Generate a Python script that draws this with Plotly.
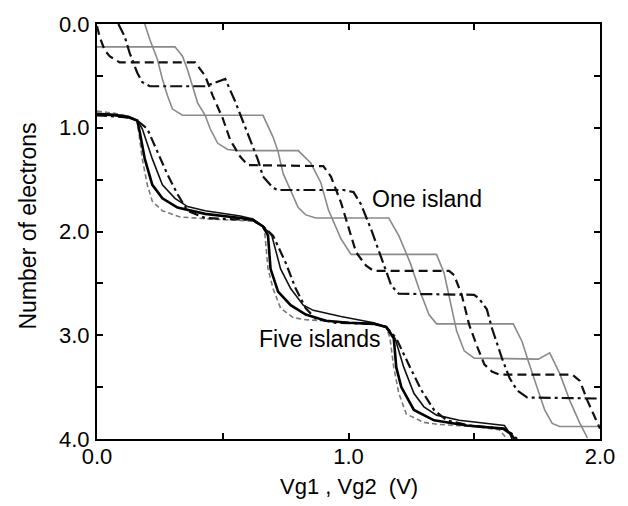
import plotly.graph_objects as go

# ---------------- One island: gray staircase 1 ----------------
g1_x = [0.0, 0.31, 0.34, 0.36, 0.38, 0.40, 0.43, 0.45, 0.48, 0.52, 0.56,
        0.80, 0.85, 0.89, 0.92, 0.97, 1.01,
        1.35, 1.38, 1.40, 1.43, 1.46, 1.50,
        1.755, 1.80, 1.84, 1.88, 1.92, 1.95]
g1_y = [0.22, 0.22, 0.31, 0.44, 0.60, 0.76, 0.88, 1.01, 1.15, 1.21, 1.22,
        1.22, 1.34, 1.53, 1.79, 2.07, 2.22,
        2.22, 2.40, 2.62, 2.96, 3.15, 3.22,
        3.23, 3.17, 3.37, 3.63, 3.85, 3.99]

# ---------------- One island: gray staircase 2 ----------------
g2_x = [0.19, 0.21, 0.24, 0.26, 0.28, 0.30, 0.34, 0.36,
        0.66, 0.70, 0.72, 0.74, 0.80, 0.83, 0.87,
        1.16, 1.20, 1.245, 1.28, 1.32, 1.35,
        1.655, 1.69, 1.715, 1.75, 1.78, 1.81, 1.84, 2.0]
g2_y = [0.0, 0.15, 0.34, 0.53, 0.69, 0.82, 0.88, 0.88,
        0.88, 1.09, 1.23, 1.44, 1.77, 1.84, 1.87,
        1.87, 2.04, 2.30, 2.55, 2.80, 2.89,
        2.89, 3.06, 3.25, 3.50, 3.72, 3.85, 3.88, 3.88]

# ---------------- One island: black dashed staircase ----------------
d1_x = [0.0, 0.01, 0.03, 0.05, 0.09, 0.39, 0.43, 0.46, 0.50, 0.53, 0.57, 0.60,
        0.90, 0.93, 0.97, 1.00, 1.03, 1.07, 1.10,
        1.40, 1.42, 1.45, 1.48, 1.51, 1.54, 1.57, 1.60,
        1.89, 1.92, 1.95, 1.99, 2.0]
d1_y = [0.02, 0.12, 0.25, 0.31, 0.37, 0.37, 0.50, 0.69, 0.91, 1.12, 1.28, 1.36,
        1.37, 1.47, 1.72, 1.95, 2.20, 2.33, 2.38,
        2.38, 2.42, 2.61, 2.90, 3.10, 3.28, 3.35, 3.38,
        3.38, 3.44, 3.63, 3.85, 3.90]

# ---------------- One island: black dash-dot staircase ----------------
d2_x = [0.085, 0.11, 0.13, 0.16, 0.18, 0.21, 0.43, 0.51,
        0.55, 0.60, 0.64, 0.66, 0.70, 0.72,
        0.98, 1.02, 1.05, 1.09, 1.13, 1.17, 1.20,
        1.50, 1.52, 1.55, 1.57, 1.61, 1.64, 1.67, 1.71, 2.0]
d2_y = [0.0, 0.12, 0.28, 0.47, 0.56, 0.60, 0.60, 0.53,
        0.75, 1.07, 1.31, 1.47, 1.58, 1.60,
        1.60, 1.62, 1.74, 1.98, 2.26, 2.52, 2.60,
        2.61, 2.65, 2.75, 2.93, 3.22, 3.41, 3.53, 3.60, 3.61]

# ---------------- Five islands ----------------
f_thick_x = [0.0, 0.07, 0.125, 0.16, 0.17, 0.19, 0.22, 0.26, 0.32, 0.43, 0.57, 0.62, 0.66,
             0.68, 0.69, 0.72, 0.77, 0.83, 0.91, 1.00, 1.10, 1.15,
             1.18, 1.19, 1.21, 1.26, 1.34, 1.47, 1.615, 1.645, 1.66]
f_thick_y = [0.87, 0.88, 0.90, 0.93, 1.04, 1.30, 1.55, 1.68, 1.77, 1.83, 1.87, 1.89, 1.95,
             2.04, 2.36, 2.58, 2.71, 2.80, 2.86, 2.88, 2.89, 2.92,
             3.03, 3.31, 3.50, 3.72, 3.82, 3.87, 3.90, 3.95, 4.0]

f_thin_x = [0.0, 0.07, 0.125, 0.16, 0.18, 0.22, 0.26, 0.31, 0.36, 0.43, 0.57, 0.62, 0.66,
            0.695, 0.73, 0.77, 0.82, 0.86, 0.97, 1.05, 1.10, 1.15,
            1.185, 1.22, 1.26, 1.30, 1.35, 1.44, 1.62, 1.64, 1.65]
f_thin_y = [0.86, 0.87, 0.89, 0.93, 1.01, 1.30, 1.55, 1.68, 1.76, 1.80, 1.85, 1.88, 1.95,
            2.04, 2.36, 2.55, 2.71, 2.76, 2.82, 2.86, 2.88, 2.92,
            3.03, 3.31, 3.56, 3.69, 3.77, 3.82, 3.87, 3.94, 4.0]

f_dashdot_x = [0.0, 0.07, 0.125, 0.16, 0.20, 0.24, 0.28, 0.32, 0.36, 0.43, 0.57, 0.62, 0.66,
               0.70, 0.75, 0.79, 0.83, 0.87, 0.95, 1.05, 1.10, 1.15,
               1.19, 1.245, 1.29, 1.34, 1.39, 1.48, 1.62, 1.65, 1.67]
f_dashdot_y = [0.88, 0.89, 0.90, 0.93, 1.01, 1.23, 1.45, 1.64, 1.80, 1.87, 1.88, 1.89, 1.95,
               2.04, 2.30, 2.55, 2.74, 2.84, 2.88, 2.89, 2.89, 2.92,
               3.03, 3.31, 3.53, 3.72, 3.82, 3.87, 3.90, 3.95, 4.0]

f_gray_x = [0.0, 0.07, 0.125, 0.16, 0.164, 0.18, 0.20, 0.22, 0.26, 0.33, 0.45, 0.57, 0.62, 0.66,
            0.668, 0.68, 0.70, 0.73, 0.78, 0.83, 0.95, 1.05, 1.10, 1.15,
            1.165, 1.18, 1.20, 1.23, 1.30, 1.36, 1.50, 1.60, 1.63]
f_gray_y = [0.84, 0.86, 0.89, 0.93, 1.01, 1.30, 1.55, 1.71, 1.80, 1.86, 1.88, 1.89, 1.90, 1.95,
            2.04, 2.36, 2.55, 2.74, 2.83, 2.85, 2.87, 2.88, 2.89, 2.92,
            3.03, 3.31, 3.56, 3.76, 3.84, 3.86, 3.88, 3.91, 4.0]

tick_vals = [0.0, 0.5, 1.0, 1.5, 2.0]
x_tick_text = ["0.0", "", "1.0", "", "2.0"]
y_tick_vals = [0.0, 0.5, 1.0, 1.5, 2.0, 2.5, 3.0, 3.5, 4.0]
y_tick_text = ["0.0", "", "1.0", "", "2.0", "", "3.0", "", "4.0"]

FONT = "Liberation Sans, Arial, sans-serif"

fig = go.Figure()

def add(x, y, color, width, dash):
    fig.add_trace(go.Scatter(x=x, y=y, mode="lines",
                             line=dict(color=color, width=width, dash=dash),
                             showlegend=False, hoverinfo="skip"))

add(g1_x, g1_y, "#8a8a8a", 1.6, "solid")
add(g2_x, g2_y, "#8a8a8a", 1.6, "solid")
add(d1_x, d1_y, "#111111", 2.2, "9px,5px")
add(d2_x, d2_y, "#111111", 2.2, "12px,4px,3px,4px")

add(f_gray_x, f_gray_y, "#7a7a7a", 1.6, "5px,3px")
add(f_dashdot_x, f_dashdot_y, "#111111", 2.2, "10px,4px,3px,4px")
add(f_thin_x, f_thin_y, "#111111", 1.6, "solid")
add(f_thick_x, f_thick_y, "#000000", 2.6, "solid")

fig.add_annotation(x=1.085, y=1.69, text="One island", showarrow=False,
                   xanchor="left", yanchor="middle", font=dict(size=23, color="#000", family=FONT))
fig.add_annotation(x=0.636, y=3.04, text="Five islands", showarrow=False,
                   xanchor="left", yanchor="middle", font=dict(size=23, color="#000", family=FONT))

# axis titles placed as paper annotations
fig.add_annotation(xref="paper", yref="paper", x=0.5, y=0, yshift=-47,
                   text="Vg1 , Vg2  (V)", showarrow=False, xanchor="center", yanchor="middle",
                   font=dict(size=22, color="#000", family=FONT))
fig.add_annotation(xref="paper", yref="paper", x=0, y=0.5, xshift=-70, yshift=5,
                   text="Number of electrons", showarrow=False, textangle=-90,
                   xanchor="center", yanchor="middle",
                   font=dict(size=23, color="#000", family=FONT))

axis_common = dict(showgrid=False, zeroline=False, showline=True, linecolor="#000", linewidth=2,
                   mirror="ticks", ticks="inside", ticklen=6, tickwidth=1.5, tickcolor="#000",
                   tickfont=dict(size=22, color="#000", family=FONT))

fig.update_xaxes(range=[0, 2], tickmode="array", tickvals=tick_vals, ticktext=x_tick_text,
                 ticklabelstandoff=-3, **axis_common)
fig.update_yaxes(range=[4, 0], tickmode="array", tickvals=y_tick_vals, ticktext=y_tick_text,
                 ticklabelstandoff=1, **axis_common)

fig.update_layout(width=628, height=506, paper_bgcolor="white", plot_bgcolor="white",
                  margin=dict(l=97, r=28, t=19, b=67), font=dict(family=FONT))

fig.write_html("out.html")
